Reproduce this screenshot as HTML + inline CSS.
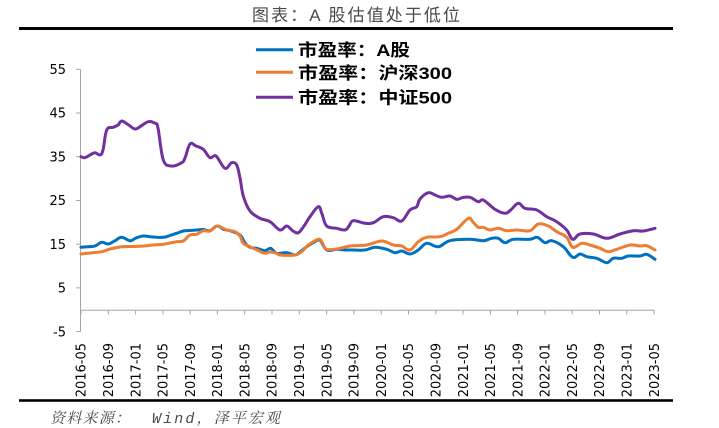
<!DOCTYPE html>
<html>
<head>
<meta charset="utf-8">
<style>
  html, body { margin:0; padding:0; background:#fff; }
  body { width:719px; height:428px; overflow:hidden; }
  svg { display:block; }
</style>
</head>
<body>
<svg id="chart" width="719" height="428" viewBox="0 0 719 428" xmlns="http://www.w3.org/2000/svg">
  <rect x="0" y="0" width="719" height="428" fill="#fff"/>
  <!-- Title -->
  <text x="252" y="21" font-family="'Liberation Sans','Noto Sans CJK SC',sans-serif" font-size="17" fill="#4a4a4a" textLength="208" lengthAdjust="spacing">图表：A 股估值处于低位</text>
  <rect x="19" y="27" width="654" height="3" fill="#000"/>

  <!-- Legend -->
  <line x1="256" y1="49.7" x2="293" y2="49.7" stroke="#0070C0" stroke-width="3"/>
  <line x1="256" y1="72.3" x2="293" y2="72.3" stroke="#ED7D31" stroke-width="3"/>
  <line x1="256" y1="97.3" x2="293" y2="97.3" stroke="#7030A0" stroke-width="3"/>
  <g font-family="'Liberation Sans','Noto Sans CJK SC',sans-serif" font-size="17" font-weight="bold" fill="#000">
    <text x="298" y="56" textLength="112" lengthAdjust="spacingAndGlyphs">市盈率：A股</text>
    <text x="298" y="79" textLength="154" lengthAdjust="spacingAndGlyphs">市盈率：沪深300</text>
    <text x="298" y="103.5" textLength="154" lengthAdjust="spacingAndGlyphs">市盈率：中证500</text>
  </g>

  <!-- Y axis -->
  <g stroke="#a6a6a6" stroke-width="1" fill="none">
    <line x1="80.5" y1="69.3" x2="80.5" y2="331.6"/>
    <line x1="76" y1="69.3" x2="80.5" y2="69.3"/>
    <line x1="76" y1="113" x2="80.5" y2="113"/>
    <line x1="76" y1="156.7" x2="80.5" y2="156.7"/>
    <line x1="76" y1="200.5" x2="80.5" y2="200.5"/>
    <line x1="76" y1="244.2" x2="80.5" y2="244.2"/>
    <line x1="76" y1="287.9" x2="80.5" y2="287.9"/>
    <line x1="76" y1="331.6" x2="80.5" y2="331.6"/>
  </g>
  <g font-family="'DejaVu Sans',sans-serif" font-size="13" fill="#000" text-anchor="end">
    <text x="66" y="74">55</text>
    <text x="66" y="117.7">45</text>
    <text x="66" y="161.4">35</text>
    <text x="66" y="205.2">25</text>
    <text x="66" y="248.9">15</text>
    <text x="66" y="292.6">5</text>
    <text x="66" y="336.3">-5</text>
  </g>

  <!-- X axis -->
  <g stroke="#a6a6a6" stroke-width="1" fill="none">
    <line x1="80.5" y1="310.3" x2="654.5" y2="310.3"/>
    <line x1="81" y1="310.3" x2="81" y2="314.5"/>
    <line x1="108.3" y1="310.3" x2="108.3" y2="314.5"/>
    <line x1="135.6" y1="310.3" x2="135.6" y2="314.5"/>
    <line x1="162.9" y1="310.3" x2="162.9" y2="314.5"/>
    <line x1="190.2" y1="310.3" x2="190.2" y2="314.5"/>
    <line x1="217.4" y1="310.3" x2="217.4" y2="314.5"/>
    <line x1="244.7" y1="310.3" x2="244.7" y2="314.5"/>
    <line x1="272" y1="310.3" x2="272" y2="314.5"/>
    <line x1="299.3" y1="310.3" x2="299.3" y2="314.5"/>
    <line x1="326.6" y1="310.3" x2="326.6" y2="314.5"/>
    <line x1="353.9" y1="310.3" x2="353.9" y2="314.5"/>
    <line x1="381.2" y1="310.3" x2="381.2" y2="314.5"/>
    <line x1="408.5" y1="310.3" x2="408.5" y2="314.5"/>
    <line x1="435.8" y1="310.3" x2="435.8" y2="314.5"/>
    <line x1="463.1" y1="310.3" x2="463.1" y2="314.5"/>
    <line x1="490.4" y1="310.3" x2="490.4" y2="314.5"/>
    <line x1="517.6" y1="310.3" x2="517.6" y2="314.5"/>
    <line x1="544.9" y1="310.3" x2="544.9" y2="314.5"/>
    <line x1="572.2" y1="310.3" x2="572.2" y2="314.5"/>
    <line x1="599.5" y1="310.3" x2="599.5" y2="314.5"/>
    <line x1="626.8" y1="310.3" x2="626.8" y2="314.5"/>
    <line x1="654.1" y1="310.3" x2="654.1" y2="314.5"/>
  </g>
  <g font-family="'DejaVu Sans',sans-serif" font-size="13" fill="#000">
    <text transform="translate(85.7,397.3) rotate(-90)">2016-05</text>
    <text transform="translate(113,397.3) rotate(-90)">2016-09</text>
    <text transform="translate(140.3,397.3) rotate(-90)">2017-01</text>
    <text transform="translate(167.6,397.3) rotate(-90)">2017-05</text>
    <text transform="translate(194.9,397.3) rotate(-90)">2017-09</text>
    <text transform="translate(222.1,397.3) rotate(-90)">2018-01</text>
    <text transform="translate(249.4,397.3) rotate(-90)">2018-05</text>
    <text transform="translate(276.7,397.3) rotate(-90)">2018-09</text>
    <text transform="translate(304,397.3) rotate(-90)">2019-01</text>
    <text transform="translate(331.3,397.3) rotate(-90)">2019-05</text>
    <text transform="translate(358.6,397.3) rotate(-90)">2019-09</text>
    <text transform="translate(385.9,397.3) rotate(-90)">2020-01</text>
    <text transform="translate(413.2,397.3) rotate(-90)">2020-05</text>
    <text transform="translate(440.5,397.3) rotate(-90)">2020-09</text>
    <text transform="translate(467.8,397.3) rotate(-90)">2021-01</text>
    <text transform="translate(495.1,397.3) rotate(-90)">2021-05</text>
    <text transform="translate(522.3,397.3) rotate(-90)">2021-09</text>
    <text transform="translate(549.6,397.3) rotate(-90)">2022-01</text>
    <text transform="translate(576.9,397.3) rotate(-90)">2022-05</text>
    <text transform="translate(604.2,397.3) rotate(-90)">2022-09</text>
    <text transform="translate(631.5,397.3) rotate(-90)">2023-01</text>
    <text transform="translate(658.8,397.3) rotate(-90)">2023-05</text>
  </g>

  <!-- Series -->
  <g id="series" fill="none" stroke-width="3" stroke-linejoin="round" stroke-linecap="round">
    <polyline class="s" stroke="#0070C0" points="81,247.3 88,246.7 95,246 101.7,242.3 108.3,244 115,240.7 121.7,237.3 130,240.7 136,238 143.3,236 153,237 163.3,237.3 170,235.5 176.7,233.3 183.3,231 190,230.5 196.7,230 203.3,229.5 210,230.7 217,226 224,229.5 230,230.7 240,235 245,243 250,247.3 256.7,248.3 265,250.7 270.7,248.3 276.7,253.3 286.7,252.7 295,255 300,252 306.7,246.7 316.7,240.7 320,240 326.7,250 336.7,249.3 345,250 353.3,250 365,250 375,247.3 386.7,249.3 395,252.7 401.7,251 410,254 418.3,250 426.7,243.3 438.3,246.7 450,240.7 470,239.3 483.3,240.7 491.7,238.3 498.3,238.3 505,242.7 513.3,239.3 530,239.3 537.3,237.3 545,242.7 551.7,240.7 563.3,246.7 572.7,257.3 580,254 586.7,256.7 596.7,258.3 606.7,262.7 613.3,258.3 621.7,258.3 628.3,256 640,256 646.7,254.3 655,259.3"/>
    <polyline class="s" stroke="#ED7D31" points="81,254 90,253 101.7,251.7 110,249 121.7,246.7 132,246.5 143.3,246 153,245 163.3,244.3 170,243 176.7,241.7 183.3,241 190,235 196.7,234.3 203.3,230.7 210,231 217.3,226 226.7,230 235,231.7 240,236 243.3,243.3 250,246.7 257,250 265,253.3 270,252 276.7,253.3 280,255 295,255 301.7,251.7 308.3,245 318.3,239.3 322,242 326.7,249.3 340,248.3 350,246 366.7,245 381.7,241 393.3,245 401.7,246 410,250 418.3,241.7 426.7,237.3 440,236.7 448.3,233.3 456.7,229.3 468.3,218.3 472.7,221.7 478.3,227.3 483.3,227.3 490,230 498.3,228.3 506.7,230.7 516.7,230 530,230.7 538.3,224 548.3,226 556.7,231.7 566.7,237.3 572.7,247.3 581.7,243.3 590,245 600,248.3 608.3,251.7 616.7,249.3 630,245 640,246 646.7,245.7 655,250"/>
    <polyline class="s" stroke="#7030A0" points="81,156.7 85,157.7 90,155 95,152.7 100,155 103,150 106.7,130 113.3,127.3 118,125 121.7,121 128,124.5 135,129 141,126 148.3,121.7 155,123.3 158,128 163.3,160 171.7,166 181.7,162.7 185,158 190,144 196,146 203.3,149.3 210,157.7 216,156 225,168.3 231.7,162.7 236.7,165 240,178 243.3,196 250,211 260,218.3 270,221.7 280,230 286.7,226 293,231 298.3,232.7 304,226 310,216.7 318.3,206.7 322,214 326.7,226 336.7,228.3 345,230 349,226 353.3,220.7 365,223.3 373.3,222.7 383.3,216.7 393.3,217.7 401.7,221 410,210 416.7,206.7 420,199 428.3,192.7 435,195 441.7,197.3 450,196 456.7,199.3 463,197.5 470,197.3 478.3,201.7 483.3,200 495,209.3 505,213.3 510.7,210 518.3,203.3 525,208.3 536.7,210 546.7,216.7 556.7,221.7 566.7,230 572.7,239.3 580,234 593.3,234 606.7,238.3 620,234 633.3,230.7 643.3,231 655,228.3"/>
  </g>

  <!-- Bottom rule & source -->
  <rect x="19" y="399.2" width="654" height="2.6" fill="#000"/>
  <g font-family="'Liberation Mono','Noto Serif CJK SC',serif" font-size="15" font-style="italic" fill="#4a4a4a">
    <text x="50" y="423" textLength="80" lengthAdjust="spacing">资料来源：</text>
    <text x="152" y="423" textLength="128" lengthAdjust="spacing">Wind，泽平宏观</text>
  </g>
</svg>
<script>
(function(){
  var ns = "http://www.w3.org/2000/svg";
  var pls = document.querySelectorAll("polyline.s");
  for (var k = 0; k < pls.length; k++) {
    var pl = pls[k];
    var pts = pl.getAttribute("points").trim().split(/\s+/).map(function(p){
      var a = p.split(","); return [parseFloat(a[0]), parseFloat(a[1])];
    });
    var t = 0.18;
    var d = "M" + pts[0][0] + "," + pts[0][1];
    for (var i = 0; i < pts.length - 1; i++) {
      var p0 = pts[i > 0 ? i - 1 : i], p1 = pts[i], p2 = pts[i + 1], p3 = pts[i + 2 < pts.length ? i + 2 : i + 1];
      var c1x = p1[0] + (p2[0] - p0[0]) * t, c1y = p1[1] + (p2[1] - p0[1]) * t;
      var c2x = p2[0] - (p3[0] - p1[0]) * t, c2y = p2[1] - (p3[1] - p1[1]) * t;
      d += " C" + c1x.toFixed(2) + "," + c1y.toFixed(2) + " " + c2x.toFixed(2) + "," + c2y.toFixed(2) + " " + p2[0] + "," + p2[1];
    }
    var path = document.createElementNS(ns, "path");
    path.setAttribute("d", d);
    path.setAttribute("stroke", pl.getAttribute("stroke"));
    pl.parentNode.replaceChild(path, pl);
  }
})();
</script>
</body>
</html>
